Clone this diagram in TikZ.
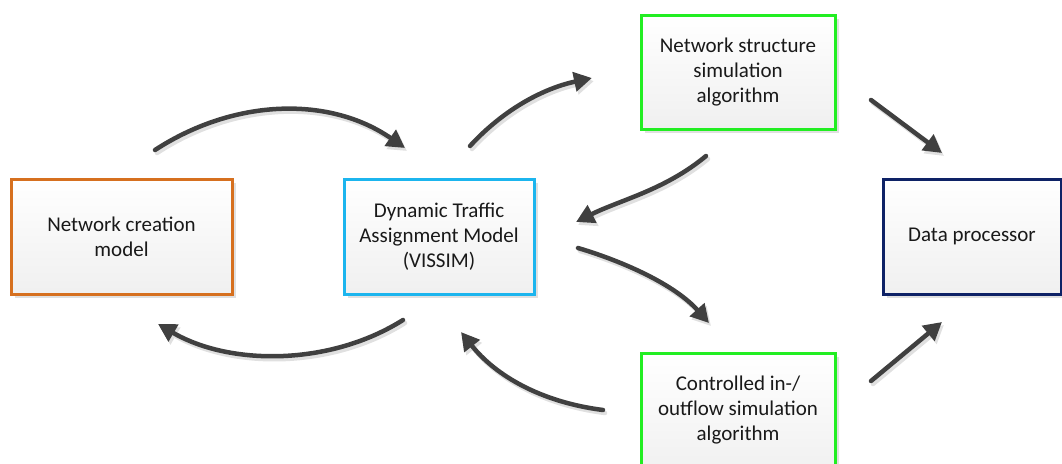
\documentclass[tikz,border=0pt]{standalone}
\usepackage{fontspec}
\setmainfont{Carlito}
\usetikzlibrary{arrows.meta,shadows}
\definecolor{cOrange}{HTML}{D6701F}
\definecolor{cBlue}{HTML}{1CB5EE}
\definecolor{cGreen}{HTML}{22EE22}
\definecolor{cNavy}{HTML}{0E2266}
\definecolor{cArrow}{HTML}{404040}
\tikzset{
  box/.style={draw, line width=3pt, inner sep=0pt, top color=white, bottom color=black!6,
    drop shadow={shadow xshift=4pt, shadow yshift=-4pt, fill=black!12, opacity=1},
    align=center, font=\fontsize{21}{25}\selectfont, text=black!90},
  boxtext/.style={align=center, font=\fontsize{21}{25}\selectfont, text=black!90},
  arr/.style={draw=cArrow, line width=4.5pt, line cap=round, -{Triangle[length=18pt,width=19pt]}},
  arrsh/.style={draw=black!12, line width=4.5pt, line cap=round, -{Triangle[length=18pt,width=19pt]}},
}
\newcommand\myarrow[1]{\draw[arrsh,transform canvas={shift={(2pt,-3pt)}}] #1;\draw[arr] #1;}
\begin{document}
\begin{tikzpicture}[x=1pt,y=-1pt]
\useasboundingbox (0,0) rectangle (1062,463);
\node[box, draw=cOrange, minimum width=221pt, minimum height=115pt] (ncm) at (121.5,236.5) {Network creation\\model};
\node[box, draw=cBlue, minimum width=190pt, minimum height=115pt] (dta) at (439,236.5) {Dynamic Traffic\\Assignment Model\\(VISSIM)};
\node[box, draw=cGreen, minimum width=194pt, minimum height=114pt] (nss) at (738,72) {Network structure\\simulation\\algorithm};
\node[box, draw=cNavy, minimum width=178pt, minimum height=115pt] (dp) at (972,236.5) {Data processor};
\node[box, draw=cGreen, minimum width=194pt, minimum height=125pt] (cio) at (738,415.5) {};
\node[boxtext] (ciot) at (738,410) {Controlled in-/\\outflow simulation\\algorithm};
% arrow end points
\coordinate (a1s) at (155,150); \coordinate (a1e) at (405,148);
\coordinate (a2s) at (470,146); \coordinate (a2e) at (592,78);
\coordinate (a3s) at (706,156); \coordinate (a3e) at (576,222);
\coordinate (a4s) at (578,248); \coordinate (a4e) at (709,323);
\coordinate (a5s) at (603,410); \coordinate (a5e) at (461,332);
\coordinate (a6s) at (403,320); \coordinate (a6e) at (158,324);
\coordinate (a7s) at (871,100); \coordinate (a7e) at (942,153);
\coordinate (a8s) at (871,381); \coordinate (a8e) at (942,322);
\myarrow{(a1s) .. controls (235,98) and (330,96) .. (a1e)}
\myarrow{(a2s) .. controls (505,108) and (545,88) .. (a2e)}
\myarrow{(a3s) .. controls (665,190) and (620,200) .. (a3e)}
\myarrow{(a4s) .. controls (625,262) and (675,285) .. (a4e)}
\myarrow{(a5s) .. controls (540,402) and (495,375) .. (a5e)}
\myarrow{(a6s) .. controls (330,366) and (230,366) .. (a6e)}
\myarrow{(a7s) -- (a7e)}
\myarrow{(a8s) -- (a8e)}
\end{tikzpicture}
\end{document}
